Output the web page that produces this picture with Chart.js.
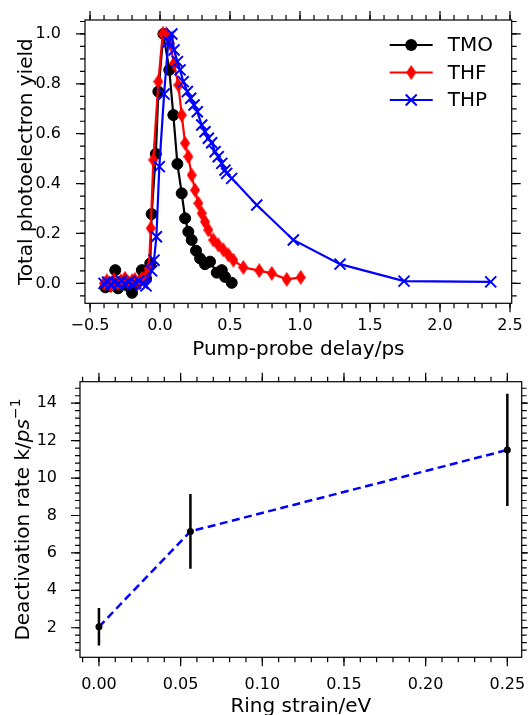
<!DOCTYPE html>
<html>
<head>
<meta charset="utf-8">
<title>Photoelectron yield and deactivation rate</title>
<script src="https://cdn.jsdelivr.net/npm/chart.js@4.4.1/dist/chart.umd.min.js"></script>
<style>
  html, body { margin: 0; padding: 0; background: #fff; }
  canvas { position: absolute; left: 0; }
  #topChart { top: 0; }
  #bottomChart { top: 360px; }
</style>
</head>
<body>
<canvas id="topChart" width="528" height="360"></canvas>
<canvas id="bottomChart" width="528" height="355"></canvas>
<script>
// top panel: yield vs delay, one pair of arrays per molecule
const tmoDelay = [-0.39, -0.36, -0.32, -0.30, -0.26, -0.23, -0.20, -0.17, -0.13, -0.10, -0.07, -0.06, -0.03, -0.012, 0.024, 0.066, 0.095, 0.124, 0.155, 0.179, 0.202, 0.226, 0.257, 0.286, 0.321, 0.357, 0.405, 0.441, 0.464, 0.512];
const tmoYield = [-0.016, -0.01, 0.053, -0.02, 0.0, -0.01, -0.038, 0.0, 0.053, 0.02, 0.08, 0.278, 0.519, 0.769, 1.0, 0.856, 0.675, 0.479, 0.361, 0.261, 0.207, 0.174, 0.131, 0.10, 0.077, 0.087, 0.043, 0.053, 0.026, 0.002];

const thfDelay = [-0.40, -0.38, -0.35, -0.33, -0.30, -0.28, -0.25, -0.23, -0.20, -0.18, -0.15, -0.13, -0.10, -0.08, -0.066, -0.048, -0.012, 0.019, 0.045, 0.071, 0.10, 0.131, 0.155, 0.179, 0.202, 0.226, 0.25, 0.274, 0.298, 0.321, 0.345, 0.381, 0.416, 0.452, 0.488, 0.524, 0.595, 0.709, 0.798, 0.905, 1.005];
const thfYield = [0.0, 0.01, -0.01, 0.015, 0.0, 0.01, 0.02, 0.005, 0.01, 0.015, 0.0, 0.02, 0.03, 0.06, 0.221, 0.495, 0.809, 1.0, 1.0, 0.963, 0.882, 0.795, 0.675, 0.562, 0.508, 0.434, 0.374, 0.321, 0.281, 0.247, 0.214, 0.174, 0.154, 0.134, 0.114, 0.093, 0.064, 0.051, 0.04, 0.016, 0.024];

const thpDelay = [-0.40, -0.375, -0.35, -0.325, -0.30, -0.275, -0.25, -0.225, -0.20, -0.175, -0.15, -0.125, -0.10, -0.06, -0.043, -0.026, -0.005, 0.029, 0.059, 0.084, 0.10, 0.124, 0.143, 0.166, 0.195, 0.219, 0.243, 0.266, 0.298, 0.321, 0.345, 0.369, 0.393, 0.416, 0.441, 0.464, 0.476, 0.512, 0.691, 0.952, 1.286, 1.743, 2.362];
const thpYield = [0.0, 0.005, -0.005, 0.005, 0.0, 0.01, 0.0, 0.005, -0.005, 0.0, 0.01, 0.0, -0.01, 0.05, 0.093, 0.187, 0.468, 0.759, 0.969, 1.0, 0.936, 0.889, 0.856, 0.809, 0.769, 0.742, 0.715, 0.688, 0.635, 0.608, 0.582, 0.564, 0.528, 0.508, 0.481, 0.454, 0.441, 0.421, 0.314, 0.174, 0.077, 0.009, 0.006];

const delayTicks = [-0.5, 0.0, 0.5, 1.0, 1.5, 2.0, 2.5];
const yieldTicks = [0.0, 0.2, 0.4, 0.6, 0.8, 1.0];

// bottom panel: rate vs ring strain with error bars
const ringStrain = [0.0, 0.056, 0.25];
const deactRate = [2.05, 7.15, 11.5];
const rateErr = [1.0, 2.0, 3.0];

const strainTicks = [0.0, 0.05, 0.10, 0.15, 0.20, 0.25];
const rateTicks = [2, 4, 6, 8, 10, 12, 14];

const FONT = 'DejaVu Sans';
Chart.defaults.font.family = FONT;
Chart.defaults.color = '#000';

const pts = (xs, ys) => xs.map((x, i) => ({ x, y: ys[i] }));
const minus = s => s.replace('-', '\u2212');

function thinDiamond(color, w, h) {
    const c = document.createElement('canvas');
    c.width = w;
    c.height = h;
    const g = c.getContext('2d');
    g.fillStyle = color;
    g.beginPath();
    g.moveTo(w / 2, 0);
    g.lineTo(w, h / 2);
    g.lineTo(w / 2, h);
    g.lineTo(0, h / 2);
    g.closePath();
    g.fill();
    return c;
}

// chart.js adds tick padding to the side padding of a scale, which eats the plot area
function fixWidth(w) {
    return ax => { ax.width = w; ax.paddingTop = 0; ax.paddingBottom = 0; };
}
function fixHeight(h) {
    return ax => { ax.height = h; ax.paddingLeft = 0; ax.paddingRight = 0; };
}

// box round the plot with outward major + minor ticks on all four sides
function frameTicks(xMinor, yMinor) {
    return {
        id: 'frameTicks',
        afterDraw(chart) {
            const { ctx, chartArea: a, scales: { x, y } } = chart;
            const MAJOR = 9, MINOR = 5;
            ctx.save();
            ctx.strokeStyle = '#000';
            ctx.lineWidth = 1.2;
            ctx.strokeRect(a.left, a.top, a.right - a.left, a.bottom - a.top);

            const minors = (scale, step) => {
                let out = [];
                for (let k = Math.ceil(scale.min / step); k <= Math.floor(scale.max / step); k++) out.push(k * step);
                return out;
            };
            const xMarks = (vals, len) => {
                for (let v of vals) {
                    let px = x.getPixelForValue(v);
                    ctx.beginPath();
                    ctx.moveTo(px, a.bottom); ctx.lineTo(px, a.bottom + len);
                    ctx.moveTo(px, a.top); ctx.lineTo(px, a.top - len);
                    ctx.stroke();
                }
            };
            const yMarks = (vals, len) => {
                for (let v of vals) {
                    let py = y.getPixelForValue(v);
                    ctx.beginPath();
                    ctx.moveTo(a.left, py); ctx.lineTo(a.left - len, py);
                    ctx.moveTo(a.right, py); ctx.lineTo(a.right + len, py);
                    ctx.stroke();
                }
            };
            xMarks(minors(x, xMinor), MINOR);
            yMarks(minors(y, yMinor), MINOR);
            xMarks(x.ticks.map(t => t.value), MAJOR);
            yMarks(y.ticks.map(t => t.value), MAJOR);
            ctx.restore();
        }
    };
}

// matplotlib style legend: line with marker in the middle, label to the right
const legendRows = {
    id: 'legendRows',
    afterDraw(chart) {
        const { ctx, chartArea: a } = chart;
        ctx.save();
        chart.data.datasets.forEach((ds, i) => {
            const y = a.top + 25 + i * 27.5;
            const x0 = a.right - 122, x1 = a.right - 79, xm = (x0 + x1) / 2;
            ctx.strokeStyle = ds.borderColor;
            ctx.fillStyle = ds.borderColor;
            ctx.lineWidth = ds.borderWidth;
            ctx.beginPath();
            ctx.moveTo(x0, y);
            ctx.lineTo(x1, y);
            ctx.stroke();
            if (ds.pointStyle === 'circle') {
                ctx.beginPath();
                ctx.arc(xm, y, ds.pointRadius + 0.5, 0, Math.PI * 2);
                ctx.fill();
            } else if (ds.pointStyle === 'crossRot') {
                const r = ds.pointRadius * Math.SQRT1_2;
                ctx.lineWidth = ds.pointBorderWidth;
                ctx.beginPath();
                ctx.moveTo(xm - r, y - r); ctx.lineTo(xm + r, y + r);
                ctx.moveTo(xm - r, y + r); ctx.lineTo(xm + r, y - r);
                ctx.stroke();
            } else {
                const im = ds.pointStyle;
                ctx.drawImage(im, xm - im.width / 2, y - im.height / 2);
            }
            ctx.fillStyle = '#000';
            ctx.font = '20px ' + FONT;
            ctx.textBaseline = 'middle';
            ctx.textAlign = 'left';
            ctx.fillText(ds.label, a.right - 64, y + 1);
        });
        ctx.restore();
    }
};

// y title of the bottom panel: k upright, ps italic, superscript -1
const rateTitle = {
    id: 'rateTitle',
    afterDraw(chart) {
        const { ctx, chartArea: a } = chart;
        const parts = [
            { t: 'Deactivation rate k/', f: '20px ' + FONT, rise: 0 },
            { t: 'ps', f: 'italic 20px ' + FONT, rise: 0 },
            { t: '\u22121', f: '14px ' + FONT, rise: 8.5 },
        ];
        ctx.save();
        ctx.fillStyle = '#000';
        ctx.textBaseline = 'alphabetic';
        ctx.textAlign = 'left';
        let total = 0;
        for (let p of parts) { ctx.font = p.f; p.w = ctx.measureText(p.t).width; total += p.w; }
        ctx.translate(a.left - 51.5, (a.top + a.bottom) / 2);
        ctx.rotate(-Math.PI / 2);
        let cx = -total / 2;
        for (let p of parts) {
            ctx.font = p.f;
            ctx.fillText(p.t, cx, -p.rise);
            cx += p.w;
        }
        ctx.restore();
    }
};

function axisFont(size) {
    return { family: FONT, size: size };
}

new Chart(document.getElementById('topChart'), {
    type: 'line',
    data: {
        datasets: [
            { label: 'TMO', data: pts(tmoDelay, tmoYield), borderColor: '#000000', backgroundColor: '#000000',
              borderWidth: 2.2, pointStyle: 'circle', pointRadius: 5.5, pointBorderWidth: 1, order: 2 },
            { label: 'THF', data: pts(thfDelay, thfYield), borderColor: '#ff0000', backgroundColor: '#ff0000',
              borderWidth: 2.2, pointStyle: thinDiamond('#ff0000', 10, 15), pointRadius: 7, order: 1 },
            { label: 'THP', data: pts(thpDelay, thpYield), borderColor: '#0000ff', backgroundColor: '#0000ff',
              borderWidth: 2.2, pointStyle: 'crossRot', pointRadius: 7.8, pointBorderWidth: 2, order: 0 },
        ]
    },
    options: {
        responsive: false,
        animation: false,
        layout: { padding: { left: 0, right: 16.3, top: 20, bottom: 0 } },
        elements: { line: { tension: 0, fill: false } },
        plugins: { legend: { display: false }, tooltip: { enabled: false } },
        scales: {
            x: {
                type: 'linear', min: -0.536, max: 2.512,
                afterBuildTicks: ax => { ax.ticks = delayTicks.map(v => ({ value: v })); },
                afterFit: fixHeight(56.7),
                grid: { display: false }, border: { display: false },
                ticks: { padding: 5, font: axisFont(16), autoSkip: false, maxRotation: 0,
                         callback: v => minus(v.toFixed(1)) },
                title: { display: true, text: 'Pump-probe delay/ps', font: axisFont(20), padding: { top: 0, bottom: -2 } }
            },
            y: {
                type: 'linear', min: -0.080, max: 1.056,
                afterBuildTicks: ax => { ax.ticks = yieldTicks.map(v => ({ value: v })); },
                afterFit: fixWidth(85),
                grid: { display: false }, border: { display: false },
                ticks: { padding: 16, font: axisFont(16), callback: v => minus(v.toFixed(1)) },
                title: { display: true, text: 'Total photoelectron yield', font: axisFont(20), padding: { top: 15, bottom: 0 } }
            }
        }
    },
    plugins: [frameTicks(0.1, 0.05), legendRows]
});

const errorBars = ringStrain.map((s, i) => ({
    data: [{ x: s, y: deactRate[i] - rateErr[i] }, { x: s, y: deactRate[i] + rateErr[i] }],
    borderColor: '#000000', borderWidth: 2.5, pointRadius: 0, order: 1
}));

new Chart(document.getElementById('bottomChart'), {
    type: 'line',
    data: {
        datasets: [
            { data: pts(ringStrain, deactRate), showLine: false, pointRadius: 3.5, pointBorderWidth: 0,
              pointBackgroundColor: '#000000', order: 0 },
            ...errorBars,
            { data: pts(ringStrain, deactRate), borderColor: '#0000ff', borderWidth: 2.5, borderDash: [8, 4.5],
              pointRadius: 0, order: 2 },
        ]
    },
    options: {
        responsive: false,
        animation: false,
        layout: { padding: { left: 0, right: 6.3, top: 21.7, bottom: 0 } },
        elements: { line: { tension: 0, fill: false } },
        plugins: { legend: { display: false }, tooltip: { enabled: false } },
        scales: {
            x: {
                type: 'linear', min: -0.0116, max: 0.2588,
                afterBuildTicks: ax => { ax.ticks = strainTicks.map(v => ({ value: v })); },
                afterFit: fixHeight(57.7),
                grid: { display: false }, border: { display: false },
                ticks: { padding: 10, font: axisFont(16), autoSkip: false, maxRotation: 0,
                         callback: v => v.toFixed(2) },
                title: { display: true, text: 'Ring strain/eV', font: axisFont(20), padding: { top: 0, bottom: -4 } }
            },
            y: {
                type: 'linear', min: 0.42, max: 15.15,
                afterBuildTicks: ax => { ax.ticks = rateTicks.map(v => ({ value: v })); },
                afterFit: fixWidth(80),
                grid: { display: false }, border: { display: false },
                ticks: { padding: 15, font: axisFont(16), callback: v => String(v) },
                title: { display: false }
            }
        }
    },
    plugins: [frameTicks(0.01, 0.4), rateTitle]
});
</script>
</body>
</html>
